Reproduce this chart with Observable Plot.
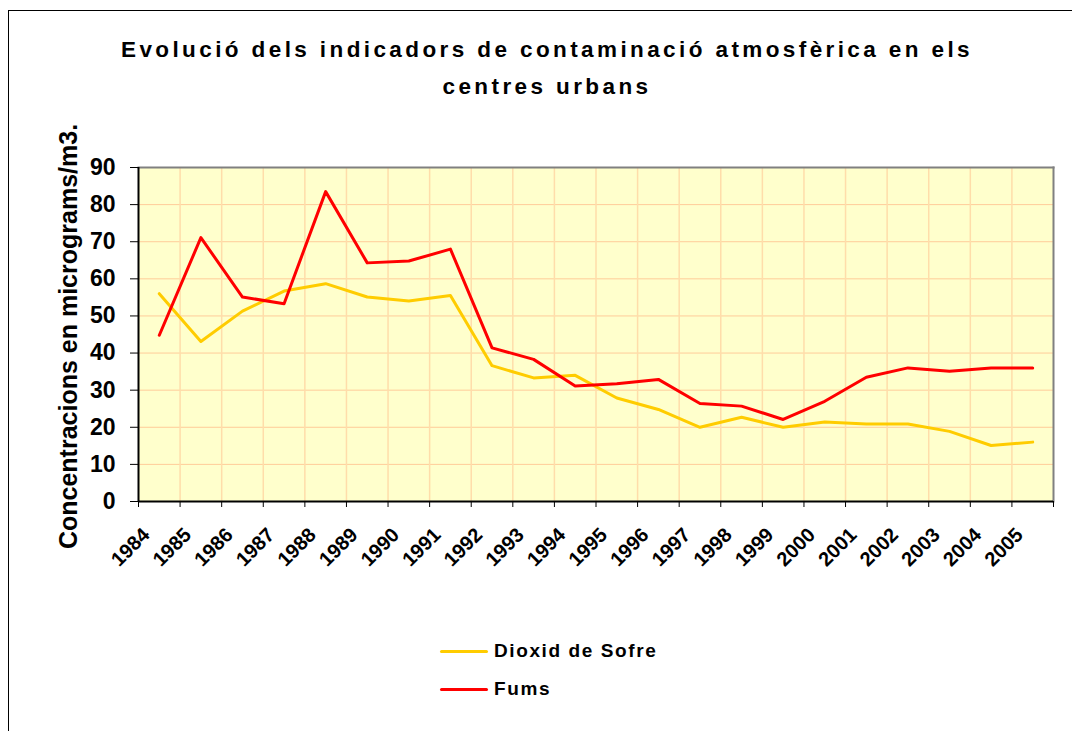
<!DOCTYPE html>
<html><head><meta charset="utf-8">
<script src="https://cdn.jsdelivr.net/npm/d3@7"></script>
<script src="https://cdn.jsdelivr.net/npm/@observablehq/plot@0.6"></script>
<style>
body{margin:0;background:#fff;font-family:"Liberation Sans",Arial,sans-serif;}
#wrap{position:relative;width:1072px;height:731px;overflow:hidden;background:#fff;}
#border{position:absolute;left:8px;top:10px;width:1100px;height:800px;border:1px solid #000;box-sizing:border-box;}
#chart{position:absolute;left:0;top:0;}
#title{position:absolute;left:0;top:31px;width:1094px;text-align:center;font-weight:bold;font-size:22.5px;line-height:37px;letter-spacing:3.4px;color:#000;}
.leg{position:absolute;left:440px;font-weight:bold;font-size:19px;letter-spacing:1.6px;display:flex;align-items:center;}
.leg span.sw{display:inline-block;width:48px;height:3px;margin-right:6px;border-radius:1.5px;}
</style></head>
<body>
<div id="wrap">
  <div id="border"></div>
  <div id="chart"></div>
  <div id="title">Evolució dels indicadors de contaminació atmosfèrica en els<br>centres urbans</div>
  <div id="legend"></div>
</div>
<script>
const years = ["1984","1985","1986","1987","1988","1989","1990","1991","1992","1993","1994","1995","1996","1997","1998","1999","2000","2001","2002","2003","2004","2005"];
const dioxid = [56.0,43.1,51.3,56.7,58.7,55.1,54.0,55.5,36.6,33.3,34.0,27.9,24.8,20.0,22.7,20.0,21.4,20.9,20.9,18.9,15.1,16.0];
const fums = [44.8,71.1,55.1,53.3,83.5,64.3,64.8,68.0,41.4,38.3,31.1,31.7,32.9,26.4,25.7,22.1,27.0,33.5,36.0,35.1,36.0,36.0];
const yTicks = [0,10,20,30,40,50,60,70,80,90];
const seriesNames = ["Dioxid de Sofre","Fums"];
const seriesColors = ["#FFCC00","#FF0000"];

const n = years.length;
const rows = years.map((y,i)=>({i, year:y, dioxid:dioxid[i], fums:fums[i]}));
const bounds = d3.range(n+1);

const chart = Plot.plot({
  width:1072, height:731,
  marginLeft:138, marginRight:19, marginTop:167, marginBottom:230,
  x:{domain:[0,n], axis:null},
  y:{domain:[0,90], axis:null},
  style:{fontFamily:"'Liberation Sans', Arial, sans-serif", background:"transparent", color:"#000"},
  marks:[
    Plot.frame({fill:"#FFFFCC", stroke:null}),
    Plot.ruleY(yTicks.slice(1), {stroke:"#FFCC99", strokeWidth:1}),
    Plot.ruleX(bounds.slice(1,-1), {stroke:"#FFDDAA", strokeWidth:1.5}),
    Plot.lineY(rows, {x:d=>d.i+0.5, y:"dioxid", stroke:seriesColors[0], strokeWidth:3, strokeLinejoin:"round", strokeLinecap:"round"}),
    Plot.lineY(rows, {x:d=>d.i+0.5, y:"fums", stroke:seriesColors[1], strokeWidth:3, strokeLinejoin:"round", strokeLinecap:"round"}),
    Plot.frame({anchor:"top", stroke:"#808080", strokeWidth:2}),
    Plot.frame({anchor:"right", stroke:"#808080", strokeWidth:2}),
    Plot.axisY({ticks:yTicks, tickSize:8, tickPadding:15, fontSize:23, fontWeight:"bold", tickFormat:d=>String(d), label:null, stroke:"#000"}),
    Plot.axisX({ticks:bounds, tickSize:6, tickFormat:()=>"", label:null, stroke:"#000"}),
    Plot.ruleX([0], {stroke:"#000", strokeWidth:2}),
    Plot.ruleY([0], {stroke:"#000", strokeWidth:2}),
    Plot.text(rows, {x:d=>d.i+0.5, y:0, text:"year", rotate:-45, textAnchor:"end", lineAnchor:"middle", dx:-13, dy:30, fontSize:20, fontWeight:"bold", fill:"#000", letterSpacing:0.6}),
    Plot.text(["Concentracions en micrograms/m3."], {frameAnchor:"left", textAnchor:"middle", rotate:-90, dx:-70, dy:2, fontSize:25, fontWeight:"bold", fill:"#000", letterSpacing:0.7})
  ]
});
document.getElementById("chart").appendChild(chart);

const legend = document.getElementById("legend");
seriesNames.forEach((name,k)=>{
  const d = document.createElement("div");
  d.className = "leg";
  d.style.top = (651 - 14 + k*38) + "px";
  d.style.height = "28px";
  d.innerHTML = `<span class="sw" style="background:${seriesColors[k]}"></span>${name}`;
  legend.appendChild(d);
});
</script>
</body></html>
